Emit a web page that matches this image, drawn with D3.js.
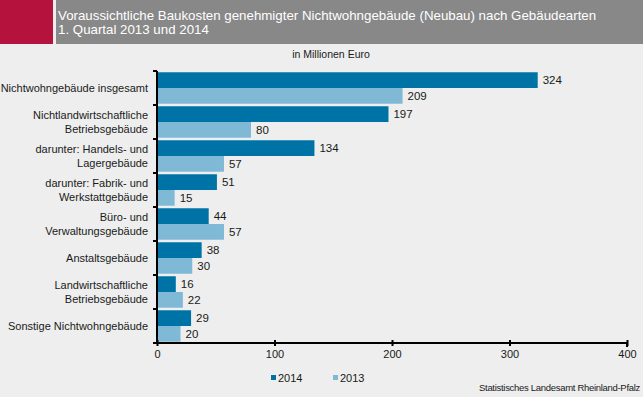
<!DOCTYPE html>
<html lang="de">
<head>
<meta charset="utf-8">
<title>Baukosten Nichtwohngebäude</title>
<script src="https://d3js.org/d3.v7.min.js"></script>
<style>
  body { margin: 0; background: #edeeed; }
  svg text { font-family: "Liberation Sans", Arial, sans-serif; fill: #1a1a1a; }
  .axis path, .axis line { stroke: #000; stroke-width: 2; }
  .axis text { font-size: 11px; }
</style>
</head>
<body>
<div id="chart"></div>
<script>
// Daten
var kategorien = [
  ["Nichtwohngebäude insgesamt"],
  ["Nichtlandwirtschaftliche", "Betriebsgebäude"],
  ["darunter: Handels- und", "Lagergebäude"],
  ["darunter: Fabrik- und", "Werkstattgebäude"],
  ["Büro- und", "Verwaltungsgebäude"],
  ["Anstaltsgebäude"],
  ["Landwirtschaftliche", "Betriebsgebäude"],
  ["Sonstige Nichtwohngebäude"]
];
var werte2014 = [324, 197, 134, 51, 44, 38, 16, 29];
var werte2013 = [209, 80, 57, 15, 57, 30, 22, 20];
var serien = ["2014", "2013"];
var xTicks = [0, 100, 200, 300, 400];

var farben = { "2014": "#0073a6", "2013": "#80b9d6" };

var W = 643, H = 397;
var svg = d3.select("#chart").append("svg").attr("width", W).attr("height", H);

// Kopfzeile
svg.append("rect").attr("x", 0).attr("y", 0).attr("width", 53).attr("height", 44).attr("fill", "#b5123e");
svg.append("rect").attr("x", 56).attr("y", 0).attr("width", W - 56).attr("height", 44).attr("fill", "#888888");
svg.append("text").attr("x", 58).attr("y", 20).style("font-size", "13.3px").style("fill", "#fff")
  .text("Voraussichtliche Baukosten genehmigter Nichtwohngebäude (Neubau) nach Gebäudearten");
svg.append("text").attr("x", 58).attr("y", 34).style("font-size", "13.3px").style("fill", "#fff")
  .text("1. Quartal 2013 und 2014");

svg.append("text").attr("x", 331).attr("y", 58).attr("text-anchor", "middle").style("font-size", "10.5px")
  .text("in Millionen Euro");

var links = 157, rechts = 627, oben = 71, unten = 343;

var x = d3.scaleLinear().domain([0, 400]).range([links, rechts]);
var y = d3.scaleBand().domain(d3.range(kategorien.length)).range([oben, unten]).paddingInner(0).paddingOuter(0);
var ySub = d3.scaleBand().domain(serien).range([0, y.bandwidth()]).paddingInner(0).paddingOuter(0.08);

var daten = kategorien.map(function(k, i) {
  return { i: i, werte: [{ s: "2014", v: werte2014[i] }, { s: "2013", v: werte2013[i] }] };
});

var gruppen = svg.selectAll("g.gruppe").data(daten).enter().append("g")
  .attr("class", "gruppe")
  .attr("transform", function(d) { return "translate(0," + y(d.i) + ")"; });

gruppen.selectAll("rect").data(function(d) { return d.werte; }).enter().append("rect")
  .attr("x", x(0))
  .attr("y", function(d) { return ySub(d.s); })
  .attr("width", function(d) { return x(d.v) - x(0); })
  .attr("height", ySub.bandwidth())
  .attr("fill", function(d) { return farben[d.s]; });

gruppen.selectAll("text.wert").data(function(d) { return d.werte; }).enter().append("text")
  .attr("class", "wert")
  .attr("x", function(d) { return x(d.v) + 5; })
  .attr("y", function(d) { return ySub(d.s) + ySub.bandwidth() / 2 + 4; })
  .style("font-size", "11.5px")
  .text(function(d) { return d.v; });

// Kategorie-Beschriftungen
svg.selectAll("text.kat").data(kategorien).enter().append("text")
  .attr("class", "kat")
  .attr("text-anchor", "end")
  .style("font-size", "11px")
  .each(function(k, i) {
    var t = d3.select(this);
    var mitte = y(i) + y.bandwidth() / 2;
    var start = mitte + 4 - (k.length - 1) * 7;
    k.forEach(function(zeile, j) {
      t.append("tspan").attr("x", 148).attr("y", start + j * 14).text(zeile);
    });
  });

// Achsen
var xAchse = svg.append("g").attr("class", "axis")
  .attr("transform", "translate(0," + unten + ")")
  .call(d3.axisBottom(x).tickValues(xTicks).tickSize(4).tickSizeOuter(4).tickPadding(3));
xAchse.select(".domain").attr("d", "M" + (links - 3) + ",0H" + rechts + "V4");
xAchse.selectAll(".tick line").attr("y1", -3).attr("y2", 3);

var yAchse = svg.append("g").attr("class", "axis");
yAchse.append("line").attr("x1", links).attr("x2", links).attr("y1", oben).attr("y2", unten).attr("stroke", "#000").attr("stroke-width", 2);
yAchse.selectAll("line.tick").data(d3.range(kategorien.length + 1)).enter().append("line")
  .attr("class", "tick")
  .attr("x1", links - 4).attr("x2", links)
  .attr("y1", function(i) { return oben + i * y.step(); })
  .attr("y2", function(i) { return oben + i * y.step(); })
  .attr("stroke", "#000").attr("stroke-width", 2);

// Legende
var legende = svg.selectAll("g.leg").data(serien).enter().append("g")
  .attr("class", "leg")
  .attr("transform", function(d, i) { return "translate(" + (271 + i * 62) + ",375)"; });
legende.append("rect").attr("width", 5).attr("height", 5).attr("fill", function(d) { return farben[d]; });
legende.append("text").attr("x", 7).attr("y", 7).style("font-size", "11px").text(function(d) { return d; });

svg.append("text").attr("x", 640).attr("y", 391).attr("text-anchor", "end").style("font-size", "9.5px")
  .style("letter-spacing", "-0.3px")
  .text("Statistisches Landesamt Rheinland-Pfalz");
</script>
</body>
</html>
